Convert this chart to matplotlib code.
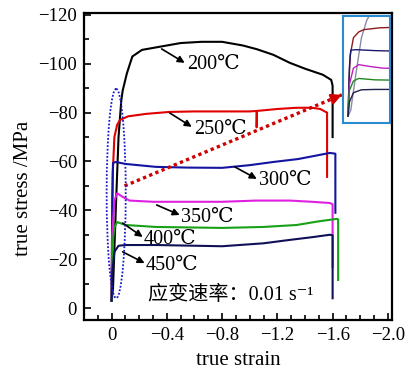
import matplotlib
matplotlib.use("Agg")
import matplotlib.pyplot as plt
from matplotlib.patches import Ellipse
from matplotlib.ticker import FixedLocator, FixedFormatter, MultipleLocator

plt.rcParams['font.family'] = ['Liberation Serif', 'DejaVu Serif', 'Noto Sans CJK SC']

# ---------------- data ----------------
temps = ['200℃', '250℃', '300℃', '350℃', '400℃', '450℃']
colors = ['#000000', '#e00000', '#1414a0', '#e020e0', '#18a018', '#101058']
inset_colors = ['#8a8aa8', '#8b1a1a', '#1a1a70', '#c020c0', '#208a20', '#202050']

strain_200 = [0.0, -0.01, -0.03, -0.05, -0.07, -0.08, -0.11, -0.15, -0.22, -0.35, -0.50, -0.65,
              -0.80, -0.95, -1.05, -1.17, -1.29, -1.40, -1.53, -1.59, -1.60, -1.60]
stress_200 = [-3, -8, -40, -70, -85, -89, -96, -103, -105.7, -107, -108.5, -109,
              -109, -107.5, -106, -103.7, -100.4, -98, -95.5, -93.4, -91, -70]

strain_250 = [0.0, -0.003, -0.008, -0.02, -0.04, -0.06, -0.12, -0.25, -0.42, -0.60, -0.80, -1.00,
              -1.05, -1.05, -1.052, -1.20, -1.34, -1.45, -1.51, -1.56, -1.56]
stress_250 = [-3, -30, -55, -70, -75, -77, -78.5, -79.5, -80.3, -80.5, -80.5, -80.5,
              -80.7, -74, -80.7, -81.5, -82, -82, -81.5, -80, -53.7]

strain_300 = [0.0, -0.005, -0.01, -0.03, -0.10, -0.32, -0.55, -0.80, -1.00, -1.17, -1.35, -1.58, -1.62, -1.62]
stress_300 = [-3, -45, -59.4, -59.8, -59, -57.8, -57.5, -57.4, -58.5, -59.8, -61, -63.5, -63.2, -39]

strain_350 = [0.0, -0.005, -0.02, -0.04, -0.08, -0.13, -0.30, -0.57, -0.80, -1.05, -1.29, -1.45, -1.58, -1.60, -1.60]
stress_350 = [-3, -30, -44, -47, -45.5, -44, -43.5, -43.5, -43.5, -44, -44, -43.5, -43, -42.5, -16.8]

strain_400 = [0.0, -0.005, -0.02, -0.04, -0.10, -0.32, -0.80, -1.10, -1.34, -1.50, -1.63, -1.64, -1.64]
stress_400 = [-3, -25, -33, -35.2, -34, -33.2, -32.8, -33.2, -34, -35.5, -36.5, -36.3, -11.5]

strain_450 = [0.0, -0.005, -0.02, -0.05, -0.10, -0.32, -0.80, -1.10, -1.29, -1.45, -1.58, -1.60, -1.60]
stress_450 = [-3, -15, -23, -25.5, -25.8, -25.8, -25.3, -26.5, -27.9, -29, -30, -29.8, -4]

strains = [strain_200, strain_250, strain_300, strain_350, strain_400, strain_450]
stresses = [stress_200, stress_250, stress_300, stress_350, stress_400, stress_450]

# annotation: (arrow tail, arrow head, text position) in data coords
label_tail = [(-0.362, -106.1), (-0.42, -79.9), (-0.891, -57.8), (-0.326, -42.2), (-0.08, -34.8), (-0.08, -23.0)]
label_head = [(-0.529, -100.4), (-0.58, -74.2), (-1.051, -52.9), (-0.493, -38.1), (-0.225, -29.1), (-0.239, -18.4)]
label_text = [(-0.545, -99.6), (-0.595, -73.2), (-1.065, -52.3), (-0.50, -37.0), (-0.23, -28.0), (-0.245, -17.6)]

x_ticks = [0, -0.4, -0.8, -1.2, -1.6, -2.0]
x_tick_labels = ['0', '−0.4', '−0.8', '−1.2', '−1.6', '−2.0']
y_ticks = [0, -20, -40, -60, -80, -100, -120]
y_tick_labels = ['0', '−20', '−40', '−60', '−80', '−100', '−120']

rate_text = '应变速率：0.01 s⁻¹'

# ---------------- figure ----------------
fig = plt.figure(figsize=(4.09, 3.72), dpi=100)
ax = fig.add_axes([84 / 409, 1 - 320 / 372, (392 - 84) / 409, (320 - 13) / 372])

for s, t, c in zip(strains, stresses, colors):
    ax.plot(s, t, color=c, lw=1.5)

ax.set_xlim(0.2, -2.03)
ax.set_ylim(4.9, -120.8)

ax.xaxis.set_major_locator(FixedLocator(x_ticks))
ax.xaxis.set_major_formatter(FixedFormatter(x_tick_labels))
ax.xaxis.set_minor_locator(MultipleLocator(0.1))
ax.yaxis.set_major_locator(FixedLocator(y_ticks))
ax.yaxis.set_major_formatter(FixedFormatter(y_tick_labels))
ax.yaxis.set_minor_locator(MultipleLocator(10))
ax.tick_params(which='both', direction='in', width=1.2, labelsize=13.5, top=False, right=False)
ax.tick_params(which='major', length=5, pad=5)
ax.tick_params(which='minor', length=3.5)
for sp in ax.spines.values():
    sp.set_linewidth(1.6)

ax.set_xlabel('true strain', fontsize=15, labelpad=5)
fig.text(24 / 409, 1 - 188 / 372, 'true stress /MPa', rotation=90, fontsize=15,
         ha='center', va='center')

# temperature labels with arrows
for name, tail, head, tpos in zip(temps, label_tail, label_head, label_text):
    ax.annotate('', xy=head, xytext=tail,
                arrowprops=dict(arrowstyle='-|>', color='black', lw=1.2,
                                mutation_scale=10, shrinkA=0, shrinkB=0))
    ax.text(tpos[0], tpos[1], name, fontsize=14.5, ha='left', va='center')

ax.text(-0.261, -5.3, rate_text, fontsize=14.5, ha='left', va='center',
        family=['Liberation Serif', 'Noto Sans CJK SC', 'DejaVu Serif'])

# dotted ellipse
ax.add_patch(Ellipse((-0.033, -46.9), 0.138, 85.7, fill=False, edgecolor='#1a1acd',
                     linestyle=(0, (1, 1)), lw=1.3, zorder=5))

# red dotted arrow to inset
arrow_start = (-0.094, -50.0)
arrow_end = (-1.667, -87.3)
ax.plot([arrow_start[0], arrow_end[0]], [arrow_start[1], arrow_end[1]],
        color='#d00000', lw=2.4, linestyle=(0, (1, 1)))
ax.annotate('', xy=arrow_end, xytext=(arrow_end[0] + 0.06, arrow_end[1] + 1.42),
            arrowprops=dict(arrowstyle='-|>', color='#d00000', lw=1.5,
                            mutation_scale=16, shrinkA=0, shrinkB=0))

# inset
axin = fig.add_axes([343 / 409, 1 - 123 / 372, 47 / 409, 107 / 372])
for s, t, c in zip(strains, stresses, inset_colors):
    axin.plot(s, t, color=c, lw=1.0)
axin.set_xlim(0.019, -0.157)
axin.set_ylim(2.9, -88.6)
axin.set_xticks([])
axin.set_yticks([])
for sp in axin.spines.values():
    sp.set_edgecolor('#2a8ad0')
    sp.set_linewidth(1.5)

fig.savefig('out.png', dpi=100)
